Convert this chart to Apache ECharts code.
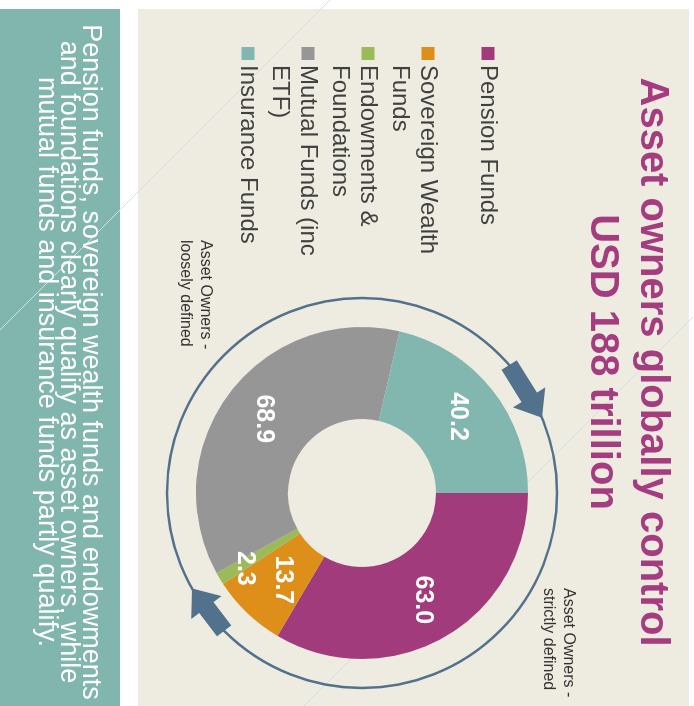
<!DOCTYPE html>
<html>
<head>
<meta charset="utf-8">
<script src="https://cdn.jsdelivr.net/npm/echarts@6/dist/echarts.min.js"></script>
<style>
  html, body { margin: 0; padding: 0; background: #fff; overflow: hidden; }
  /* the picture is drawn upright, then turned a quarter clockwise */
  #chart {
    position: absolute; left: 0; top: 0;
    width: 706px; height: 694px;
    transform-origin: 0 0;
    transform: translate(694px, 0) rotate(90deg);
  }
</style>
</head>
<body>
<div id="chart"></div>
<script>
// data
const categories = ['Pension Funds', 'Sovereign Wealth Funds', 'Endowments & Foundations', 'Mutual Funds (inc ETF)', 'Insurance Funds'];
const legendLabels = ['Pension Funds', 'Sovereign Wealth\nFunds', 'Endowments &\nFoundations', 'Mutual Funds (inc\nETF)', 'Insurance Funds'];
const values = [63.0, 13.7, 2.3, 68.9, 40.2];
const titleText = 'Asset owners globally control\nUSD 188 trillion';
const noteStrict = 'Asset Owners -\nstrictly defined';
const noteLoose = 'Asset Owners -\nloosely defined';
const footText = 'Pension funds, sovereign wealth funds and endowments\nand foundations clearly qualify as asset owners, while\nmutual funds and insurance funds partly qualify.';

const colors = ['#a23b7b', '#de8f19', '#9bbb59', '#969696', '#81b7ae'];
const ringColor = '#52718c';
const font = 'Liberation Sans, Arial, sans-serif';

const cx = 493, cy = 332, ringR = 195;

// block arrow sitting on the ring, from angle a0 to a1 (degrees, clockwise from east)
function blockArrow(a0, a1) {
  const p = a => [cx + ringR * Math.cos(a * Math.PI / 180), cy + ringR * Math.sin(a * Math.PI / 180)];
  const tail = p(a0), tip = p(a1);
  let dx = tip[0] - tail[0], dy = tip[1] - tail[1];
  const len = Math.sqrt(dx * dx + dy * dy);
  dx /= len; dy /= len;
  const nx = -dy, ny = dx;
  const headLen = 24, headHalf = 19, shaftHalf = 9;
  const bx = tip[0] - dx * headLen, by = tip[1] - dy * headLen;
  return [
    [tail[0] + nx * shaftHalf, tail[1] + ny * shaftHalf],
    [bx + nx * shaftHalf, by + ny * shaftHalf],
    [bx + nx * headHalf, by + ny * headHalf],
    tip,
    [bx - nx * headHalf, by - ny * headHalf],
    [bx - nx * shaftHalf, by - ny * shaftHalf],
    [tail[0] - nx * shaftHalf, tail[1] - ny * shaftHalf]
  ];
}

// legend text: a blank line on top so the square lines up with the first line
function legendText(name) {
  const label = legendLabels[categories.indexOf(name)];
  return '\u00a0\n' + label + (label.indexOf('\n') < 0 ? '\n\u00a0' : '');
}

// small nudges for the two crowded labels
const labelOffsets = { 'Sovereign Wealth Funds': [-2, -6], 'Endowments & Foundations': [12, 12] };

const myChart = echarts.init(document.getElementById('chart'));
const option = {
  animation: false,
  color: colors,
  title: {
    text: titleText,
    left: 362,
    textAlign: 'center',
    top: 17,
    padding: 0,
    textStyle: { color: '#a53c80', fontSize: 40, fontWeight: 'bold', lineHeight: 50, fontFamily: font }
  },
  legend: {
    orient: 'vertical',
    left: 47,
    top: 164,
    padding: 0,
    itemGap: -24,
    itemWidth: 13,
    itemHeight: 13,
    icon: 'rect',
    selectedMode: false,
    data: categories,
    formatter: legendText,
    textStyle: { color: '#404040', fontSize: 24, lineHeight: 28, fontFamily: font }
  },
  graphic: {
    elements: [
      { type: 'rect', z: -10, shape: { x: 9, y: 5, width: 720, height: 551 }, style: { fill: '#eeebe1' } },
      { type: 'rect', z: -10, shape: { x: 9, y: 574, width: 720, height: 130 }, style: { fill: '#80b6ad' } },
      { type: 'line', z: -9, shape: { x1: 0, y1: 364, x2: 330, y2: 694 }, style: { stroke: '#cfe0ea', lineWidth: 1 } },
      { type: 'line', z: -9, shape: { x1: 317, y1: 1, x2: 706, y2: 390 }, style: { stroke: '#cfe0ea', lineWidth: 1 } },
      { type: 'circle', shape: { cx: cx, cy: cy, r: ringR }, style: { fill: 'none', stroke: ringColor, lineWidth: 2.5 } },
      { type: 'polygon', shape: { points: blockArrow(-131, -112.7) }, style: { fill: ringColor } },
      { type: 'polygon', shape: { points: blockArrow(45, 60.7) }, style: { fill: ringColor } },
      { type: 'text', x: 588, y: 116, style: { text: noteStrict, fill: '#333', font: '16px ' + font, lineHeight: 20, verticalAlign: 'top' } },
      { type: 'text', x: 240, y: 479, style: { text: noteLoose, fill: '#333', font: '16px ' + font, lineHeight: 20, verticalAlign: 'top' } },
      { type: 'text', x: 362, y: 626, style: { text: footText, fill: '#fff', font: '27px ' + font, lineHeight: 22, align: 'center', verticalAlign: 'middle' } }
    ]
  },
  series: [
    {
      type: 'pie',
      center: [cx, cy],
      radius: [74, 166],
      startAngle: 90,
      clockwise: true,
      avoidLabelOverlap: false,
      emphasis: { disabled: true },
      label: {
        show: true,
        position: 'inside',
        color: '#fff',
        fontSize: 25,
        fontWeight: 'bold',
        fontFamily: font,
        formatter: p => p.value.toFixed(1)
      },
      labelLine: { show: false },
      data: categories.map((name, i) => {
        const item = { name: name, value: values[i] };
        if (labelOffsets[name]) item.label = { offset: labelOffsets[name] };
        return item;
      })
    }
  ]
};
myChart.setOption(option);
</script>
</body>
</html>
